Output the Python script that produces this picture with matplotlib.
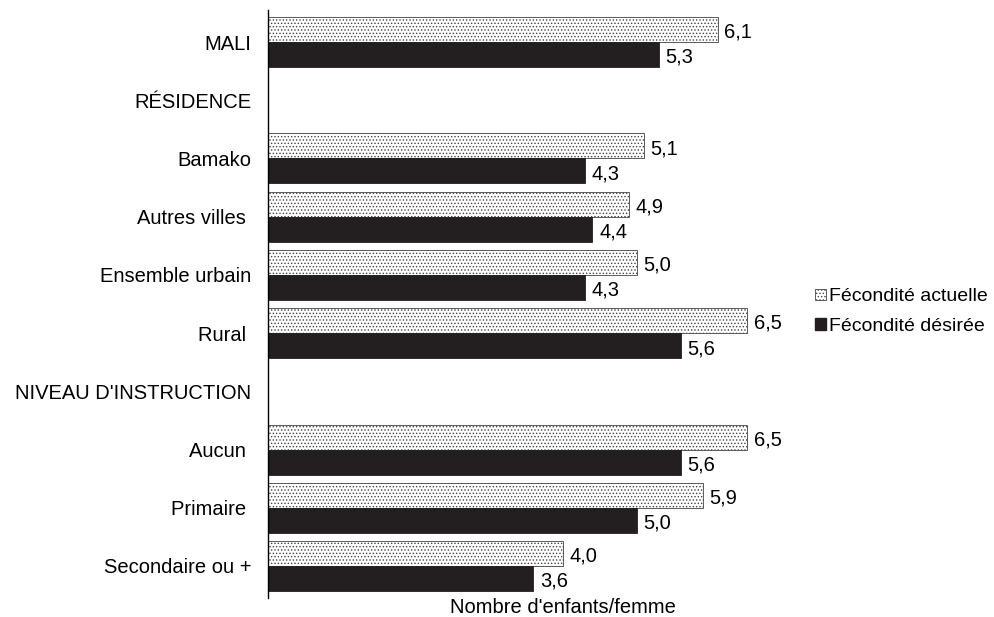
import matplotlib
matplotlib.use("Agg")
import matplotlib.pyplot as plt
import numpy as np
from matplotlib.patches import Patch

plt.rcParams['font.family'] = ['Liberation Sans', 'DejaVu Sans']
plt.rcParams['hatch.linewidth'] = 0.6

categories = ["MALI", "RÉSIDENCE", "Bamako", "Autres villes ", "Ensemble urbain",
              "Rural ", "NIVEAU D'INSTRUCTION", "Aucun ", "Primaire ", "Secondaire ou +"]
actuelle = [6.1, None, 5.1, 4.9, 5.0, 6.5, None, 6.5, 5.9, 4.0]
desiree = [5.3, None, 4.3, 4.4, 4.3, 5.6, None, 5.6, 5.0, 3.6]
series_names = ["Fécondité actuelle", "Fécondité désirée"]

FS = 14.5

fig = plt.figure(figsize=(9.95, 6.17), dpi=100)
ax = fig.add_axes([0.2693, 0.0308, 0.593, 0.953])

h = 0.43
y = np.arange(len(categories))
for i, (a, d) in enumerate(zip(actuelle, desiree)):
    if a is None:
        continue
    ax.barh(y[i] - h / 2, a, height=h, facecolor='white', edgecolor='#444444',
            hatch='.....', linewidth=0.6)
    ax.barh(y[i] + h / 2, d, height=h, facecolor='#231f20', edgecolor='#231f20',
            linewidth=0.6)
    ax.text(a + 0.09, y[i] - h / 2 + 0.05, f"{a:.1f}".replace('.', ','),
            va='center', ha='left', fontsize=FS)
    ax.text(d + 0.09, y[i] + h / 2 + 0.05, f"{d:.1f}".replace('.', ','),
            va='center', ha='left', fontsize=FS)

ax.set_ylim(len(categories) - 0.45, -0.55)
ax.set_xlim(0, 8)
ax.set_yticks(y)
ax.set_yticklabels(categories, fontsize=FS)
ax.tick_params(axis='y', length=0, pad=12)
ax.set_xticks([])
for s in ['top', 'right', 'bottom']:
    ax.spines[s].set_visible(False)
ax.spines['left'].set_linewidth(1.0)
ax.set_xlabel("Nombre d'enfants/femme", fontsize=FS, labelpad=0)

handles = [Patch(facecolor='white', edgecolor='#444444', hatch='.....', linewidth=0.6),
           Patch(facecolor='#231f20', edgecolor='#231f20')]
fig.legend(handles, series_names, loc='center left', bbox_to_anchor=(0.819, 0.495),
           frameon=False, fontsize=14, handlelength=0.55, handleheight=0.55,
           handletextpad=0.2, labelspacing=0.65, borderpad=0, borderaxespad=0)

fig.savefig("out.png", dpi=100)
